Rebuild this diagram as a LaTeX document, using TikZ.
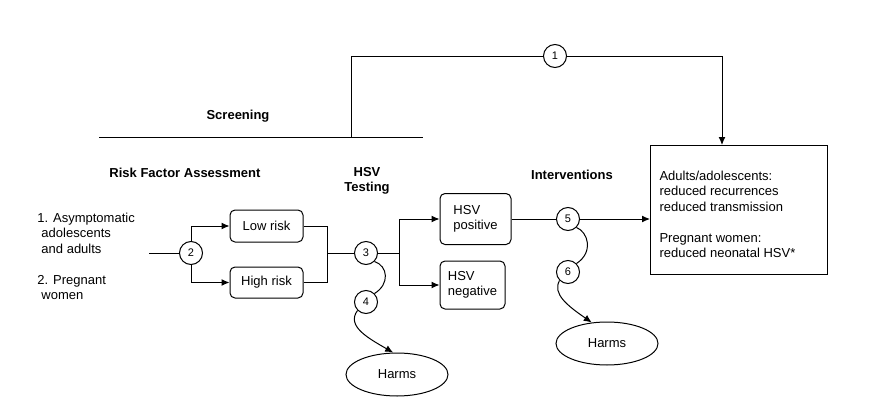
\documentclass[tikz,border=0pt]{standalone}
\usepackage{fontspec}
\setmainfont{Liberation Sans}
\usetikzlibrary{arrows.meta,shapes.geometric}
\begin{document}
\begin{tikzpicture}[x=1pt,y=-1pt,
  line width=1pt,
  every node/.style={font=\fontsize{13}{15.5}\selectfont},
  num/.style={circle,draw,minimum size=23pt,inner sep=0pt,font=\fontsize{11}{12}\selectfont,fill=white},
  rbox/.style={draw,rounded corners=5pt,align=left,inner sep=0pt},
  hdr/.style={font=\bfseries\fontsize{13}{15.5}\selectfont,align=center},
  plain/.style={align=left,inner sep=0pt,anchor=north west},
  harm/.style={ellipse,draw,minimum width=102pt,minimum height=43pt,inner sep=0pt},
  arr/.style={-{Latex[length=8pt,width=7pt]}}]
\useasboundingbox (0,0) rectangle (871,418);
% headers
\node[hdr] (scr) at (238,116) {Screening};
\node[hdr] (rfa) at (185,173) {Risk Factor Assessment};
\node[hdr] (hsvt) at (367,181) {HSV\\Testing};
\node[hdr] (intv) at (572,175) {Interventions};
% screening line and path 1
\coordinate (sl) at (99,137);
\coordinate (sr) at (423,137);
\coordinate (up) at (351,137);
\draw (sl) -- (sr);
\node[num] (c1) at (555,56) {1};
\node[draw,minimum width=177pt,minimum height=129pt,inner sep=0pt,anchor=north west] (out) at (650,145) {};
\node[plain] (outtxt) at (659,170.5) {Adults/adolescents:\\reduced recurrences\\reduced transmission\\[15.5pt]Pregnant women:\\reduced neonatal HSV*};
\coordinate (o1) at (722,145);
\draw (up) |- (c1);
\draw[arr] (c1) -| (o1);
% populations
\node[plain] (pop1) at (37,212.2) {1. Asymptomatic\\\hspace*{4pt}adolescents\\\hspace*{4pt}and adults};
\node[plain] (pop2) at (37,274.7) {2. Pregnant\\\hspace*{4pt}women};
\coordinate (in) at (149,253);
\node[num] (c2) at (191,253) {2};
\draw (in) -- (c2);
\node[rbox,minimum width=73pt,minimum height=32pt] (low) at (266.5,226) {Low risk};
\node[rbox,minimum width=73pt,minimum height=31pt] (high) at (266.5,282.5) {High risk};
\draw[arr] (c2) |- (low);
\draw[arr] (c2) |- (high);
\coordinate (j1) at (327,253);
\draw (low) -| (j1);
\draw (high) -| (j1);
\node[num] (c3) at (366,253) {3};
\draw (j1) -- (c3);
\coordinate (j2) at (399,253);
\draw (c3) -- (j2);
\node[rbox,minimum width=71pt,minimum height=51pt] (pos) at (475.5,219) {HSV\\positive};
\node[rbox,minimum width=65pt,minimum height=48pt] (neg) at (472.5,285) {HSV\\negative};
\draw[arr] (j2) |- (pos);
\draw[arr] (j2) |- (neg);
\node[num] (c5) at (568,219) {5};
\draw (pos) -- (c5);
\draw[arr] (c5) -- (c5 -| out.west);
% harms branches
\node[num] (c4) at (366,302) {4};
\node[harm] (h1) at (397,374.5) {Harms};
\draw (c3.-45) .. controls (388,266) and (390,284) .. (c4.45);
\draw[arr] (c4.-135) .. controls (346,326) and (368,338) .. (h1.100);
\node[num] (c6) at (568,272) {6};
\node[harm] (h2) at (607,343.5) {Harms};
\draw (c5.-45) .. controls (588,232) and (594,252) .. (c6.45);
\draw[arr] (c6.-135) .. controls (552,294) and (568,306) .. (h2.126);
\end{tikzpicture}
\end{document}
